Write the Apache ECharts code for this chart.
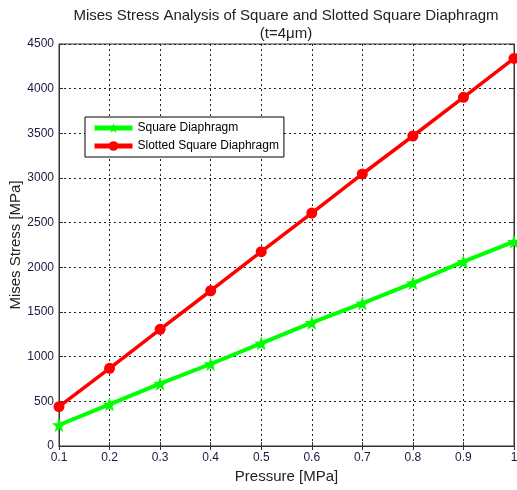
<!DOCTYPE html>
<html><head><meta charset="utf-8">
<script src="https://cdn.jsdelivr.net/npm/echarts@6/dist/echarts.min.js"></script>
<style>html,body{margin:0;padding:0;background:#fff}#c{width:517px;height:490px}</style>
</head><body><div id="c"></div>
<script>
const pressure = [0.1,0.2,0.3,0.4,0.5,0.6,0.7,0.8,0.9,1.0];
const squareStress = [235,466,698,918,1149,1380,1597,1824,2063,2287];
const slottedStress = [440,870,1306,1738,2175,2608,3045,3470,3903,4339];
const titleLines = ['Mises Stress Analysis of Square and Slotted Square Diaphragm','(t=4μm)'];
const F = 'Liberation Sans, Arial, sans-serif';
const toPairs = (xs, ys) => xs.map((x,i)=>[x, ys[i]]);
const chart = echarts.init(document.getElementById('c'), null, {renderer:'canvas'});
const gridLine = {show:true, lineStyle:{color:'#222', type:[2,3], width:1}};
const starPath = 'path://M0,-10 L2.4,-3.3 L9.5,-3.1 L3.9,1.3 L5.9,8.1 L0,4.1 L-5.9,8.1 L-3.9,1.3 L-9.5,-3.1 L-2.4,-3.3 Z';
chart.setOption({
  animation:false,
  backgroundColor:'#fff',
  title:{text:titleLines.join('\n'), left:281, top:2, textAlign:'center',
    textStyle:{fontFamily:F, fontSize:15, fontWeight:'normal', color:'#222', lineHeight:18}},
  legend:{left:85, top:117, orient:'vertical', itemGap:6, itemWidth:38, itemHeight:12,
    backgroundColor:'#fff', borderColor:'#000', borderWidth:1, padding:[5,5,5,7],
    textStyle:{fontFamily:F, fontSize:12, color:'#000'},
    lineStyle:{width:5},
    data:['Square Diaphragm','Slotted Square Diaphragm']},
  grid:{left:59, right:3, top:44, bottom:44, show:true, borderColor:'#333', borderWidth:1,
    containLabel:false, outerBoundsMode:'none'},
  xAxis:[{type:'value', min:0.1, max:1, interval:0.1,
    name:'Pressure [MPa]', nameLocation:'middle', nameGap:23, nameMoveOverlap:false,
    nameTextStyle:{fontFamily:F, fontSize:15, color:'#222'},
    axisLine:{lineStyle:{color:'#333'}},
    axisTick:{inside:true, length:4, lineStyle:{color:'#333'}},
    axisLabel:{fontFamily:F, fontSize:12, color:'#1a1a40', margin:6,
      formatter:v=>String(+v.toFixed(1))},
    splitLine:gridLine},
   {type:'value', position:'top', min:0.1, max:1, interval:0.1,
    axisLine:{show:true, lineStyle:{color:'#333'}},
    axisTick:{inside:true, length:4, lineStyle:{color:'#333'}},
    axisLabel:{show:false}, splitLine:{show:false}}],
  yAxis:[{type:'value', min:0, max:4500, interval:500,
    name:'Mises Stress [MPa]', nameLocation:'middle', nameGap:36, nameMoveOverlap:false,
    nameTextStyle:{fontFamily:F, fontSize:15, color:'#222'},
    axisLine:{show:true, lineStyle:{color:'#333'}},
    axisTick:{show:true, inside:true, length:4, lineStyle:{color:'#333'}},
    axisLabel:{fontFamily:F, fontSize:12, color:'#1a1a40', margin:5, formatter:v=>String(v)},
    splitLine:gridLine},
   {type:'value', position:'right', min:0, max:4500, interval:500,
    axisLine:{show:true, lineStyle:{color:'#333'}},
    axisTick:{show:true, inside:true, length:4, lineStyle:{color:'#333'}},
    axisLabel:{show:false}, splitLine:{show:false}}],
  series:[
    {name:'Square Diaphragm', type:'line', data:toPairs(pressure, squareStress),
     symbol:starPath, symbolSize:14, color:'#00ff00', lineStyle:{width:4, color:'#00ff00'},
     itemStyle:{color:'#00ff00'}, z:3, clip:false},
    {name:'Slotted Square Diaphragm', type:'line', data:toPairs(pressure, slottedStress),
     symbol:'circle', symbolSize:11, color:'#ff0000', lineStyle:{width:3.5, color:'#ff0000'},
     itemStyle:{color:'#ff0000'}, z:3, clip:false}
  ]
});
</script></body></html>
